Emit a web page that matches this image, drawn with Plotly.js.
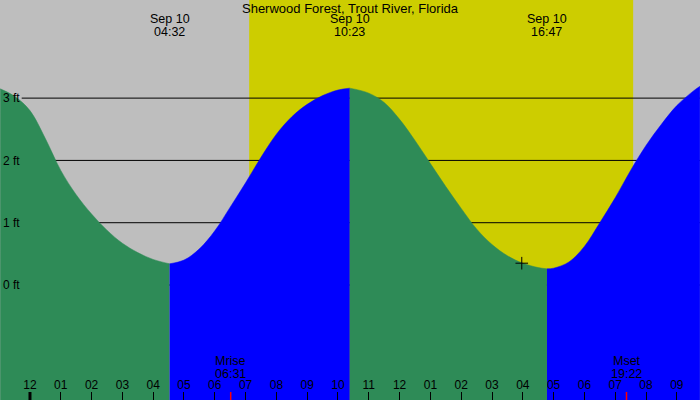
<!DOCTYPE html>
<html>
<head>
<meta charset="utf-8">
<script src="https://cdn.plot.ly/plotly-3.0.1.min.js"></script>
<style>
  html, body { margin: 0; padding: 0; background: #bebebe; }
  #tidePlot { width: 700px; height: 400px; }
</style>
</head>
<body>
<div id="tidePlot"></div>
<script>
// tide heights (feet), Sep 9 23:02 .. Sep 10 21:45
var tideTimes = [
    '2024-09-09 23:02', '2024-09-09 23:30', '2024-09-10 00:00', '2024-09-10 00:30',
    '2024-09-10 01:00', '2024-09-10 01:30', '2024-09-10 02:00', '2024-09-10 02:30',
    '2024-09-10 03:00', '2024-09-10 03:30', '2024-09-10 04:00', '2024-09-10 04:32',
    '2024-09-10 05:00', '2024-09-10 05:30', '2024-09-10 06:00', '2024-09-10 06:30',
    '2024-09-10 07:00', '2024-09-10 07:30', '2024-09-10 08:00', '2024-09-10 08:30',
    '2024-09-10 09:00', '2024-09-10 09:30', '2024-09-10 10:00', '2024-09-10 10:23',
    '2024-09-10 11:00', '2024-09-10 11:30', '2024-09-10 12:00', '2024-09-10 12:30',
    '2024-09-10 13:00', '2024-09-10 13:30', '2024-09-10 14:00', '2024-09-10 14:30',
    '2024-09-10 15:00', '2024-09-10 15:30', '2024-09-10 16:00', '2024-09-10 16:30',
    '2024-09-10 16:47', '2024-09-10 17:00', '2024-09-10 17:30', '2024-09-10 18:00',
    '2024-09-10 18:30', '2024-09-10 19:00', '2024-09-10 19:30', '2024-09-10 20:00',
    '2024-09-10 20:30', '2024-09-10 21:00', '2024-09-10 21:30', '2024-09-10 21:45'
];
var tideFeet = [
    3.15, 3.03, 2.80, 2.35,
    1.84, 1.45, 1.14, 0.88,
    0.67, 0.52, 0.41, 0.34,
    0.40, 0.58, 0.87, 1.25,
    1.64, 2.05, 2.42, 2.70,
    2.90, 3.04, 3.13, 3.16,
    3.08, 2.93, 2.66, 2.32,
    1.95, 1.58, 1.23, 0.90,
    0.65, 0.47, 0.35, 0.28,
    0.26, 0.27, 0.37, 0.62,
    1.00, 1.40, 1.84, 2.24,
    2.58, 2.88, 3.10, 3.19
];

// high / low tide events
var extremeTimes = ['2024-09-10 04:32', '2024-09-10 10:23', '2024-09-10 16:47'];
var extremeDays = ['Sep 10', 'Sep 10', 'Sep 10'];
var extremeClock = ['04:32', '10:23', '16:47'];

// moon and sun
var moonTimes = ['2024-09-10 06:31', '2024-09-10 19:22'];
var moonNames = ['Mrise', 'Mset'];
var moonClock = ['06:31', '19:22'];
var sunrise = '2024-09-10 07:07';
var sunset = '2024-09-10 19:35';
var midnight = '2024-09-10 00:00';

// current reading marker
var nowTime = ['2024-09-10 15:58'];
var nowFeet = [0.35];

var yTicks = [0, 1, 2, 3];
var yTickText = ['0 ft', '1 ft', '2 ft', '3 ft'];

var xRange = ['2024-09-09 23:01:36', '2024-09-10 21:45:11'];
var yRange = [-1.846, 4.575];

var font = 'Liberation Sans, Arial, sans-serif';
var ink = '#000';
var green = '#2e8b57';
var blue = '#0000ff';

// split the curve at each high/low so falling and rising get their own colour
var cuts = [tideTimes[0]].concat(extremeTimes, [tideTimes[tideTimes.length - 1]]);
var traces = [];
for (var i = 0; i < cuts.length - 1; i++) {
    var xs = [], ys = [];
    for (var j = 0; j < tideTimes.length; j++) {
        if (tideTimes[j] >= cuts[i] && tideTimes[j] <= cuts[i + 1]) {
            xs.push(tideTimes[j]);
            ys.push(tideFeet[j]);
        }
    }
    var colour = (i % 2 === 0) ? green : blue;
    traces.push({
        x: [xs[0], xs[xs.length - 1]],
        y: [yRange[0], yRange[0]],
        mode: 'lines',
        line: {width: 0},
        hoverinfo: 'skip',
        showlegend: false
    });
    traces.push({
        x: xs,
        y: ys,
        mode: 'lines',
        line: {width: 0.5, color: colour, shape: 'spline', smoothing: 1},
        fill: 'tonexty',
        fillcolor: colour,
        showlegend: false
    });
}

traces.push({
    x: nowTime,
    y: nowFeet,
    mode: 'markers',
    marker: {symbol: 'cross-thin', size: 9, line: {width: 1, color: 'black'}},
    showlegend: false
});

var shapes = [{
    type: 'rect', xref: 'x', yref: 'paper',
    x0: sunrise, x1: sunset, y0: 0, y1: 1,
    fillcolor: '#cdcd00', line: {width: 0}, layer: 'below'
}];
yTicks.forEach(function(v) {
    shapes.push({
        type: 'line', xref: 'paper', yref: 'y',
        x0: 0.031, x1: 1, y0: v, y1: v,
        line: {color: 'black', width: 1}, layer: 'below'
    });
});
shapes.push({
    type: 'line', xref: 'x', yref: 'paper',
    x0: midnight, x1: midnight, y0: 0, y1: 0.02,
    line: {color: 'black', width: 3}
});
moonTimes.forEach(function(t) {
    shapes.push({
        type: 'line', xref: 'x', yref: 'paper',
        x0: t, x1: t, y0: 0, y1: 0.02,
        line: {color: 'red', width: 1.5}
    });
});

var annotations = [];
function label(t, yPix, txt) {
    annotations.push({x: t, xref: 'x', yref: 'paper', y: 1 - yPix / 400, yanchor: 'middle',
        text: txt, showarrow: false, font: {family: font, size: 12.5, color: ink}});
}
extremeTimes.forEach(function(t, k) {
    label(t, 19, extremeDays[k]);
    label(t, 32, extremeClock[k]);
});
moonTimes.forEach(function(t, k) {
    label(t, 361, moonNames[k]);
    label(t, 374, moonClock[k]);
});

var layout = {
    width: 700,
    height: 400,
    margin: {l: 0, r: 0, t: 0, b: 0, pad: 0},
    paper_bgcolor: '#bebebe',
    plot_bgcolor: '#bebebe',
    font: {family: font, size: 12, color: ink},
    title: {
        text: 'Sherwood Forest, Trout River, Florida',
        x: 0.5, xanchor: 'center',
        y: 1 - 8 / 400, yanchor: 'middle', yref: 'container',
        font: {family: font, size: 13, color: ink}
    },
    xaxis: {
        type: 'date',
        range: xRange,
        tick0: midnight,
        dtick: 3600000,
        tickformat: '%I',
        ticks: 'inside',
        ticklen: 8,
        tickcolor: 'black',
        tickfont: {family: font, size: 12, color: ink},
        ticklabelposition: 'inside',
        showgrid: false,
        zeroline: false,
        showline: false,
        fixedrange: true
    },
    yaxis: {
        range: yRange,
        tickmode: 'array',
        tickvals: yTicks,
        ticktext: yTickText,
        ticklabelposition: 'inside',
        tickfont: {family: font, size: 12, color: ink},
        ticks: '',
        showgrid: false,
        zeroline: false,
        showline: false,
        fixedrange: true
    },
    shapes: shapes,
    annotations: annotations,
    showlegend: false,
    hovermode: false
};

Plotly.newPlot('tidePlot', traces, layout, {displayModeBar: false, staticPlot: true});
</script>
</body>
</html>
